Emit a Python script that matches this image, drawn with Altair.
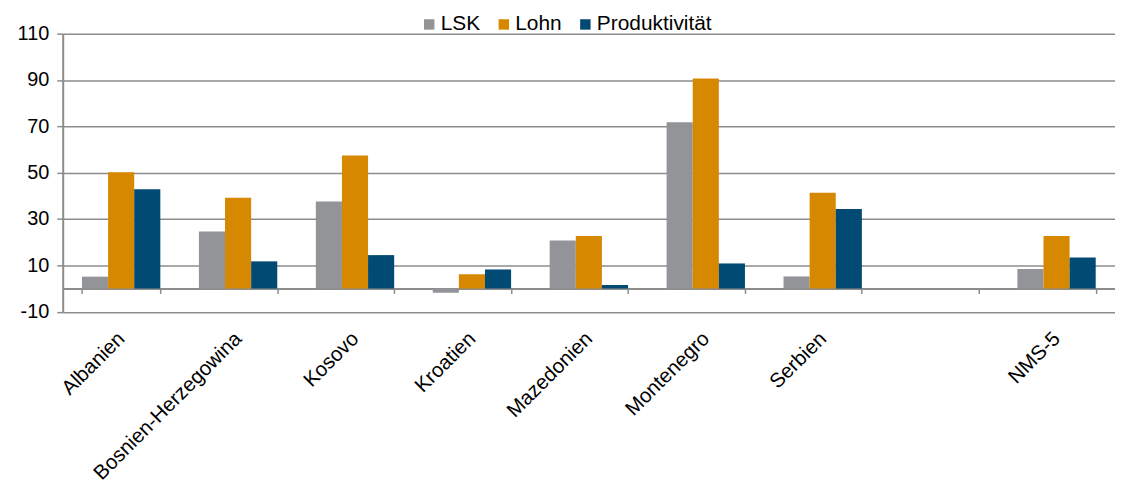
import altair as alt
import pandas as pd

categories = ["Albanien", "Bosnien-Herzegowina", "Kosovo", "Kroatien", "Mazedonien",
              "Montenegro", "Serbien", " ", "NMS-5"]
data_categories = ["Albanien", "Bosnien-Herzegowina", "Kosovo", "Kroatien", "Mazedonien",
                   "Montenegro", "Serbien", "NMS-5"]
series = ["LSK", "Lohn", "Produktivität"]
lsk = [5.1, 24.6, 37.5, -1.8, 20.7, 71.7, 5.2, 8.4]
lohn = [50.2, 39.2, 57.4, 6.1, 22.6, 90.6, 41.3, 22.7]
prod = [42.8, 11.7, 14.4, 8.2, 1.5, 10.8, 34.3, 13.4]
colors = ["#939498", "#d68900", "#004a73"]
y_ticks = [-10, 10, 30, 50, 70, 90, 110]

rows = []
for s, vals in zip(series, [lsk, lohn, prod]):
    for c, v in zip(data_categories, vals):
        rows.append({"Land": c, "Serie": s, "Wert": v})
df = pd.DataFrame(rows)

FONT = "Liberation Sans"
W, H = 1058, 279.5

chart = alt.Chart(df).mark_bar().encode(
    x=alt.X("Land:N",
            scale=alt.Scale(domain=categories, paddingInner=0.33, paddingOuter=0.165),
            axis=alt.Axis(title=None, labelAngle=-45, labelAlign="right", labelBaseline="middle",
                          labelPadding=42, labelFontSize=20.5, labelColor="#000000",
                          labelFont=FONT, offset=-23.3, domainColor="#8c8c8c", domainWidth=2,
                          tickColor="#8c8c8c", tickWidth=1.5, tickSize=5, tickBand="extent",
                          labelOverlap=False, labelLimit=400, grid=False)),
    xOffset=alt.XOffset("Serie:N", sort=series),
    y=alt.Y("Wert:Q",
            scale=alt.Scale(domain=[-10, 110], nice=False, zero=False),
            axis=alt.Axis(title=None, values=y_ticks, labelFontSize=20, labelColor="#000000",
                          labelFont=FONT, labelPadding=8, domainColor="#8c8c8c", domainWidth=2,
                          labelExpr="'' + datum.value",
                          tickColor="#8c8c8c", tickWidth=1.5, tickSize=6,
                          grid=True, gridColor="#8c8c8c", gridWidth=1.5)),
    color=alt.Color("Serie:N", sort=series,
                    scale=alt.Scale(domain=series, range=colors),
                    legend=alt.Legend(title=None, orient="none", direction="horizontal",
                                      legendX=358, legendY=-20, symbolType="square",
                                      symbolSize=110, symbolStrokeWidth=0, labelFontSize=21,
                                      labelFont=FONT, labelColor="#000000", labelOffset=1,
                                      columnPadding=13)),
).properties(
    width=W, height=H,
    padding={"left": 55, "top": 24.5, "right": 0, "bottom": 170},
    autosize=alt.AutoSizeParams(type="none"),
).configure_view(stroke=None).configure_axis(labelFont=FONT)

chart.save("out.html", embed_options={"renderer": "svg", "actions": False})
